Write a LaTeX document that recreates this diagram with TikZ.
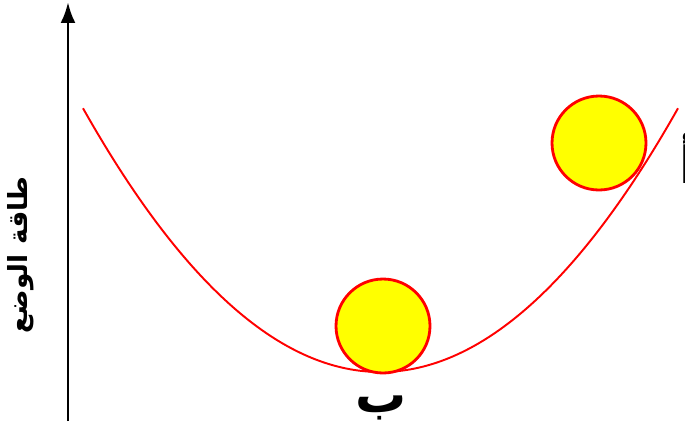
\documentclass[tikz,border=0pt]{standalone}
\usepackage{fontspec}
\newfontfamily\arabicfont[Script=Arabic]{DejaVu Sans}
\TeXXeTstate=1
\usetikzlibrary{arrows.meta}
\definecolor{ballyellow}{RGB}{255,255,0}
\definecolor{curvered}{RGB}{255,0,0}
\tikzset{
  ball/.style={draw=curvered, line width=1.6pt, fill=ballyellow, circle, minimum size=1.88cm, inner sep=0pt},
  curve/.style={curvered, line width=1.1pt},
  axis/.style={-{Latex[length=4.2mm, width=3mm]}, line width=1.7pt},
  letter/.style={inner sep=0pt, font=\arabicfont\bfseries\fontsize{29}{32}\selectfont},
  ylabel/.style={inner sep=0pt, rotate=90, font=\arabicfont\bfseries\fontsize{15}{18}\selectfont}
}
\begin{document}
\begin{tikzpicture}[x=0.02cm, y=-0.02cm]
    \useasboundingbox (0,0) rectangle (685,430);
    % axis
    \coordinate (base) at (68,421);
    \coordinate (top) at (68,2);
    \draw[axis] (base) -- (top);
    \node[ylabel] (energy) at (21,255) {\beginR طاقة الوضع\endR};
    % potential curve
    \draw[curve, smooth, domain=83:678, samples=120] plot (\x, {372 - 29.8*((\x-380.5)/100)^2});
    \node[ball] (ballB) at (383,326) {};
    \node[ball] (ballA) at (599,143) {};
    \node[letter] (labelB) at (381,408) {\beginR ب\endR};
    \node[letter, anchor=west] (labelA) at (679,158) {\beginR أ\endR};
\end{tikzpicture}
\end{document}
